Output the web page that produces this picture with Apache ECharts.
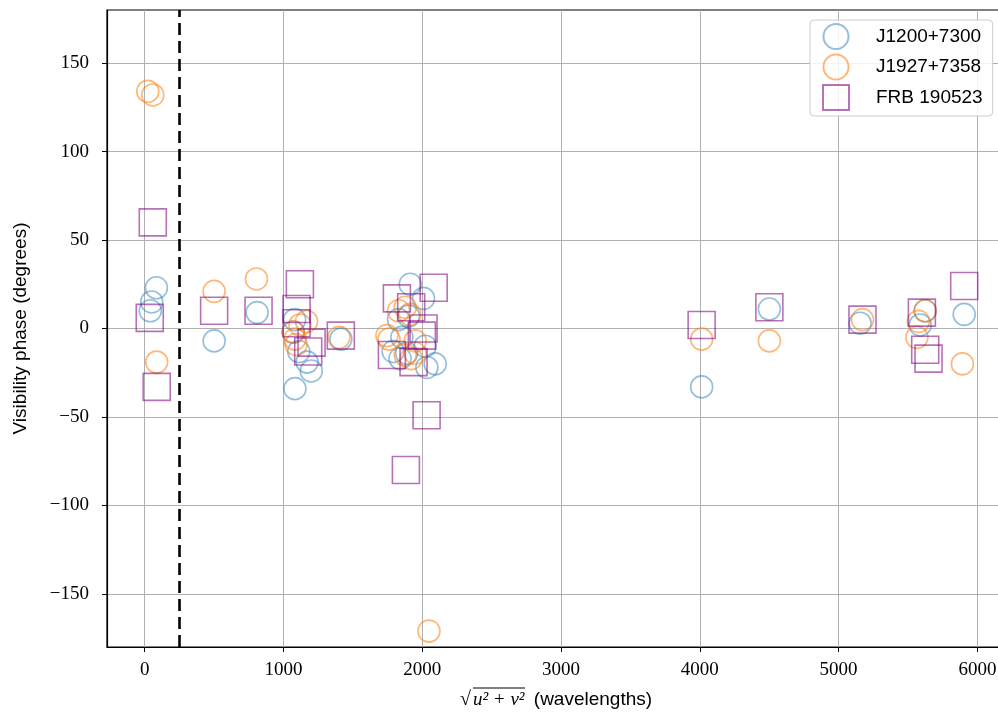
<!DOCTYPE html>
<html><head><meta charset="utf-8">
<script src="https://cdn.jsdelivr.net/npm/echarts@6/dist/echarts.min.js"></script>
<style>html,body{margin:0;padding:0;background:#fff}#c{width:998px;height:720px}</style>
</head><body><div id="c"></div><script>
const seriesNames = ['J1200+7300', 'J1927+7358', 'FRB 190523'];
const j1200 = [
  [40,10],[50,15],[84,23],
  [500,-7],[810,9],
  [1080,5],[1070,-2],[1110,-13],[1170,-19],[1200,-24],[1082,-34],
  [1413,-6],
  [1790,-13],[1829,5],[1853,-5],[1840,-17],[1887,-14],[1901,7],[1913,25],[2009,17],[2021,-10],[2033,-22],[2093,-20],
  [4013,-33],[4501,11],[5155,3],[5588,2],[5624,10],[5905,8]
];
const j1927 = [
  [22,134],[58,132],[86,-19],
  [500,21],[805,28],
  [1070,-2],[1082,-6],[1090,-9],[1118,2],[1166,4],
  [1400,-5],
  [1745,-4],[1760,-6],[1829,10],[1877,12],[1910,8],[1949,-7],[1877,-15],[1920,-17],[1949,-14],
  [2048,-171],
  [4013,-6],[4501,-7],[5172,5],[5564,-5],[5575,4],[5624,10],[5892,-20]
];
const frb = [
  [36,6],[58,60],[86,-33],
  [500,10],[820,10],
  [1094,3],[1094,11],[1118,25],[1178,-13],[1202,-8],
  [1413,-4],
  [1781,-15],[1817,17],[1882,-80],[1920,12],[1937,-19],[1997,-4],[2009,0],[2031,-49],[2082,23],
  [4013,2],[4501,12],[5172,5],[5600,9],[5624,-12],[5648,-17],[5905,24]
];
const xTicks = [0, 1000, 2000, 3000, 4000, 5000, 6000];
const yTicks = [-150, -100, -50, 0, 50, 100, 150];
const xRange = [-272, 6199];
const yRange = [-180, 180];
const cutoffX = 250;

const fmt = v => v < 0 ? '\u2212' + Math.abs(v) : String(v);
const chart = echarts.init(document.getElementById('c'), null, {renderer: 'canvas'});
const colors = ['rgba(31,119,180,0.6)', 'rgba(255,127,14,0.7)', 'rgba(128,0,128,0.7)'];
function mk(name, data, sym, size, col) {
  return {
    name, type: 'scatter', data, symbol: sym, symbolSize: size, symbolKeepAspect: true,
    itemStyle: {color: 'rgba(0,0,0,0)', borderColor: col, borderWidth: 1.6},
    emphasis: {disabled: true}, animation: false
  };
}
const s1 = mk(seriesNames[0], j1200, 'circle', 22, colors[0]);
s1.markLine = {
  silent: true, symbol: 'none', animation: false,
  label: {show: false},
  lineStyle: {color: '#000', type: [12, 6], width: 2.6},
  data: [{xAxis: cutoffX}]
};
const option = {
  backgroundColor: '#fff',
  animation: false,
  grid: {left: 107, width: 898, top: 10, bottom: 73, outerBoundsMode: 'none', containLabel: false,
    show: true, borderColor: '#000', borderWidth: 1.2, backgroundColor: 'rgba(0,0,0,0)'},
  xAxis: {
    type: 'value', min: xRange[0], max: xRange[1],
    axisLine: {show: true, onZero: false, lineStyle: {color: '#000', width: 1.2}},
    axisTick: {show: true, length: 5, lineStyle: {color: '#000', width: 1}, customValues: xTicks},
    axisLabel: {customValues: xTicks, formatter: fmt, margin: 14, color: '#000', fontFamily: 'Liberation Serif', fontSize: 19},
    splitLine: {show: true, lineStyle: {color: '#b0b0b0', width: 1}},
    name: '{r|\u221A}{i|u\u00B2 + v\u00B2} (wavelengths)',
    nameLocation: 'middle', nameGap: 43,
    nameTextStyle: {color: '#000', fontFamily: 'Liberation Sans', fontSize: 19,
      rich: {r: {fontFamily: 'Liberation Serif', fontSize: 20, color: '#000', padding: [0, 2, 0, 0]},
             i: {fontFamily: 'Liberation Serif', fontStyle: 'italic', fontSize: 19, color: '#000', padding: [0, 4, 0, 0]}}}
  },
  yAxis: {
    type: 'value', min: yRange[0], max: yRange[1],
    axisLine: {show: true, onZero: false, lineStyle: {color: '#000', width: 1.2}},
    axisTick: {show: true, length: 5, lineStyle: {color: '#000', width: 1}, customValues: yTicks},
    axisLabel: {customValues: yTicks, formatter: fmt, margin: 18, color: '#000', fontFamily: 'Liberation Serif', fontSize: 19},
    splitLine: {show: true, lineStyle: {color: '#b0b0b0', width: 1}},
    name: 'Visibility phase (degrees)', nameLocation: 'middle', nameGap: 77,
    nameTextStyle: {color: '#000', fontFamily: 'Liberation Sans', fontSize: 19}
  },
  legend: {
    left: 810, top: 20, orient: 'vertical',
    padding: [3, 10, 5, 12], itemGap: 3.5, itemWidth: 26, itemHeight: 25,
    backgroundColor: 'rgba(255,255,255,0.85)', borderColor: '#cccccc', borderWidth: 1, borderRadius: 4,
    textStyle: {color: '#000', fontFamily: 'Liberation Sans', fontSize: 19, padding: [0, 0, 0, 22]},
    data: seriesNames, selectedMode: false
  },
  graphic: [{
    type: 'line', silent: true, z: 10,
    shape: {x1: 473, y1: 688, x2: 525, y2: 688},
    style: {stroke: '#000', lineWidth: 1}
  }],
  series: [
    s1,
    mk(seriesNames[1], j1927, 'circle', 22, colors[1]),
    mk(seriesNames[2], frb, 'rect', 27, colors[2])
  ]
};
chart.setOption(option);
</script></body></html>
